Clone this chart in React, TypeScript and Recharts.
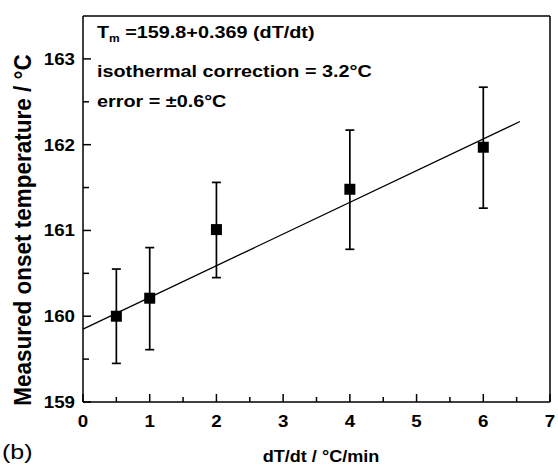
import React from 'react';
import { ComposedChart, Scatter, Line, XAxis, YAxis, ErrorBar } from 'recharts';

const rates = [0.5, 1, 2, 4, 6];
const onsets = [160.0, 160.21, 161.01, 161.48, 161.97];
const errHigh = [160.55, 160.8, 161.56, 162.17, 162.67];
const errLow = [159.45, 159.61, 160.45, 160.78, 161.26];

const fitX = [0, 6.55];
const fitY = [159.85, 162.27];

const xTicks = [0, 0.5, 1, 1.5, 2, 2.5, 3, 3.5, 4, 4.5, 5, 5.5, 6, 6.5, 7];
const yTicks = [159, 159.5, 160, 160.5, 161, 161.5, 162, 162.5, 163];
const frameTicks = [1, 2, 3, 4, 5, 6, 7, 8, 9];

const font = '"Liberation Sans", Arial, sans-serif';

const points = rates.map((x, i) => ({
  x,
  y: onsets[i],
  err: [onsets[i] - errLow[i], errHigh[i] - onsets[i]],
}));
const fit = fitX.map((x, i) => ({ x, y: fitY[i] }));

// text stretched sideways a little, like the scanned figure
const Wide = ({ x, y, sx = 1.18, size = 16.5, bold = true, anchor = 'start', children }: any) => (
  <g transform={`translate(${x} ${y}) scale(${sx} 1)`}>
    <text x={0} y={0} textAnchor={anchor} fontFamily={font} fontWeight={bold ? 'bold' : 'normal'} fontSize={size} fill="#000">
      {children}
    </text>
  </g>
);

const BottomTick = (props: any) => {
  const { x, y, payload } = props;
  const major = Number.isInteger(payload.value);
  return (
    <g>
      <line x1={x} x2={x} y1={y} y2={y - (major ? 8 : 5)} stroke="#000" strokeWidth={1.5} />
      {major && <Wide x={x} y={y + 25} size={16} sx={1.17} anchor="middle">{payload.value}</Wide>}
    </g>
  );
};

const LeftTick = (props: any) => {
  const { x, y, payload } = props;
  const major = Number.isInteger(payload.value);
  return (
    <g>
      <line x1={x} x2={x + (major ? 8 : 6)} y1={y} y2={y} stroke="#000" strokeWidth={1.5} />
      {major && <Wide x={x - 8} y={y + 6} size={16} sx={1.17} anchor="end">{payload.value}</Wide>}
    </g>
  );
};

const TopTick = (props: any) => {
  const { x, y, payload } = props;
  const major = payload.value % 2 === 0;
  return <line x1={x} x2={x} y1={y} y2={y + (major ? 6 : 4)} stroke="#000" strokeWidth={1.5} />;
};

const RightTick = (props: any) => {
  const { x, y, payload } = props;
  const major = payload.value % 2 === 0;
  return <line x1={x} x2={x - (major ? 9 : 6)} y1={y} y2={y} stroke="#000" strokeWidth={1.5} />;
};

const Square = (props: any) => {
  const { cx, cy } = props;
  return <rect x={cx - 5.5} y={cy - 5.5} width={11} height={11} fill="#000" />;
};

export default function App() {
  return (
    <div style={{ position: 'absolute', left: 0, top: 0, width: 558, height: 467, background: '#fff' }}>
      <ComposedChart width={558} height={467} margin={{ top: 15, right: 7, bottom: 64, left: 82 }}>
        <XAxis
          xAxisId="main"
          dataKey="x"
          type="number"
          domain={[0, 7]}
          ticks={xTicks}
          interval={0}
          height={1}
          tickSize={0}
          tickMargin={0}
          tick={<BottomTick />}
          axisLine={{ stroke: '#000', strokeWidth: 1.5 }}
        />
        <XAxis
          xAxisId="top"
          orientation="top"
          type="number"
          domain={[0, 10]}
          ticks={frameTicks}
          interval={0}
          height={1}
          tickSize={0}
          tickMargin={0}
          tick={<TopTick />}
          axisLine={{ stroke: '#000', strokeWidth: 1.5 }}
        />
        <YAxis
          yAxisId="main"
          type="number"
          domain={[159, 163.5]}
          ticks={yTicks}
          interval={0}
          width={1}
          tickSize={0}
          tickMargin={0}
          tick={<LeftTick />}
          axisLine={{ stroke: '#000', strokeWidth: 1.5 }}
        />
        <YAxis
          yAxisId="right"
          orientation="right"
          type="number"
          domain={[0, 10]}
          ticks={frameTicks}
          interval={0}
          width={1}
          tickSize={0}
          tickMargin={0}
          tick={<RightTick />}
          axisLine={{ stroke: '#000', strokeWidth: 1.5 }}
        />
        <Line
          xAxisId="main"
          yAxisId="main"
          data={fit}
          dataKey="y"
          stroke="#000"
          strokeWidth={1.3}
          dot={false}
          isAnimationActive={false}
        />
        <Scatter
          xAxisId="main"
          yAxisId="main"
          data={points}
          dataKey="y"
          shape={<Square />}
          isAnimationActive={false}
        >
          <ErrorBar dataKey="err" direction="y" width={4.5} stroke="#000" strokeWidth={1.7} isAnimationActive={false} />
        </Scatter>
      </ComposedChart>
      <svg width={558} height={467} style={{ position: 'absolute', left: 0, top: 0, pointerEvents: 'none' }}>
        <Wide x={97} y={38} size={16.5} sx={1.2}>
          T<tspan fontSize={10} dy={4}>m</tspan>
          <tspan dy={-4}> =159.8+0.369 (dT/dt)</tspan>
        </Wide>
        <Wide x={97} y={77} size={16.5} sx={1.2}>isothermal correction = 3.2°C</Wide>
        <Wide x={97} y={107} size={16.5} sx={1.2}>error = ±0.6°C</Wide>
        <g transform="translate(31 230) scale(1.05 1) rotate(-90)">
          <text x={0} y={0} textAnchor="middle" fontFamily={font} fontWeight="bold" fontSize={22.5} fill="#000">
            Measured onset temperature  / °C
          </text>
        </g>
        <Wide x={321} y={462} size={16.3} sx={1.11} anchor="middle">dT/dt / °C/min</Wide>
        <Wide x={2} y={459} size={20} sx={1.25} bold={false}>(b)</Wide>
      </svg>
    </div>
  );
}
